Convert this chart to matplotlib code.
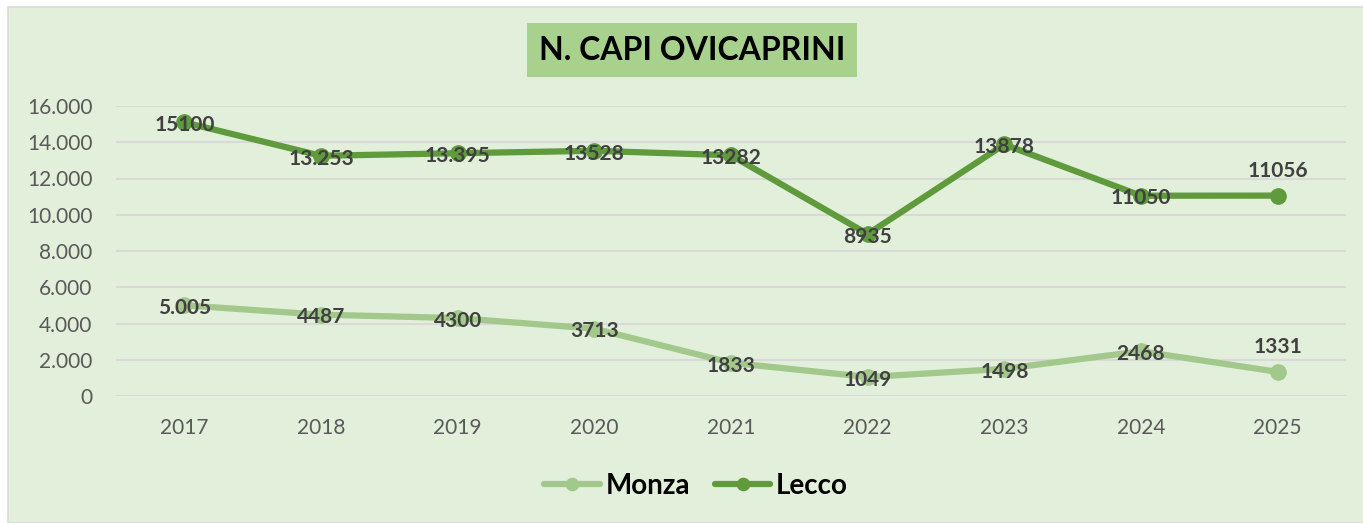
import matplotlib.pyplot as plt
from matplotlib.patches import Rectangle
from matplotlib.ticker import FuncFormatter

years = ["2017", "2018", "2019", "2020", "2021", "2022", "2023", "2024", "2025"]
monza = [5005, 4487, 4300, 3713, 1833, 1049, 1498, 2468, 1331]
lecco = [15100, 13253, 13395, 13528, 13282, 8935, 13878, 11050, 11056]
monza_labels = ["5.005", "4487", "4300", "3713", "1833", "1049", "1498", "2468", "1331"]
lecco_labels = ["15100", "13.253", "13.395", "13528", "13282", "8935", "13878", "11050", "11056"]

BG = "#E2EFDA"
C_MONZA = "#A3C88C"
C_LECCO = "#5F9A3C"
FONT = ["Lato", "DejaVu Sans"]

W, H = 1363, 523
fig = plt.figure(figsize=(W / 100, H / 100), dpi=100)
fig.patch.set_facecolor("white")
fig.patches.append(Rectangle((8 / W, 0), 1, 1 - 7 / H, transform=fig.transFigure,
                             facecolor=BG, edgecolor="#D9D9D9", linewidth=1.2, zorder=-1))

ax = fig.add_axes([116 / W, (H - 396) / H, 1230 / W, 290 / H])
ax.set_facecolor("none")
x = list(range(len(years)))

ax.plot(x, monza, color=C_MONZA, linewidth=4.5, marker="o", markersize=11,
        solid_capstyle="round", label="Monza", zorder=3)
ax.plot(x, lecco, color=C_LECCO, linewidth=4.5, marker="o", markersize=11,
        solid_capstyle="round", label="Lecco", zorder=3)

# data labels: centred on the point, last one above it
for series, labels in ((monza, monza_labels), (lecco, lecco_labels)):
    for i, (v, s) in enumerate(zip(series, labels)):
        dy = 18 if i == len(series) - 1 else -2
        ax.annotate(s, (i, v), xytext=(0, dy), textcoords="offset points",
                    ha="center", va="center", fontsize=15, fontweight="bold",
                    color="#404040", family=FONT, zorder=4)

ax.set_xlim(-0.5, len(years) - 0.5)
ax.set_ylim(0, 16000)
ax.set_yticks(range(0, 16001, 2000))
ax.yaxis.set_major_formatter(FuncFormatter(lambda v, p: f"{int(v):,}".replace(",", ".")))
ax.set_xticks(x)
ax.set_xticklabels(years)
ax.tick_params(axis="both", length=0, labelsize=15, labelcolor="#595959")
ax.tick_params(axis="y", pad=17)
ax.tick_params(axis="x", pad=16)
for lab in ax.get_xticklabels() + ax.get_yticklabels():
    lab.set_family(FONT)
ax.grid(axis="y", color="#D9D9D9", linewidth=1.5)
ax.set_axisbelow(True)
for sp in ax.spines.values():
    sp.set_visible(False)

fig.text(692 / W, 1 - 50 / H, "N. CAPI OVICAPRINI", ha="center", va="center",
         fontsize=23, fontweight="bold", color="black", family=FONT,
         bbox=dict(boxstyle="square,pad=0.38", facecolor="#A9D18E", edgecolor="none"))

leg = fig.legend(loc="center", bbox_to_anchor=(696 / W, 1 - 486 / H), ncol=2,
                 frameon=False, prop=dict(family=FONT, weight="bold", size=20),
                 handlelength=2.0, handletextpad=0.2, columnspacing=0.9, markerscale=0.8)

fig.savefig("out.png", dpi=100, facecolor=fig.get_facecolor())
